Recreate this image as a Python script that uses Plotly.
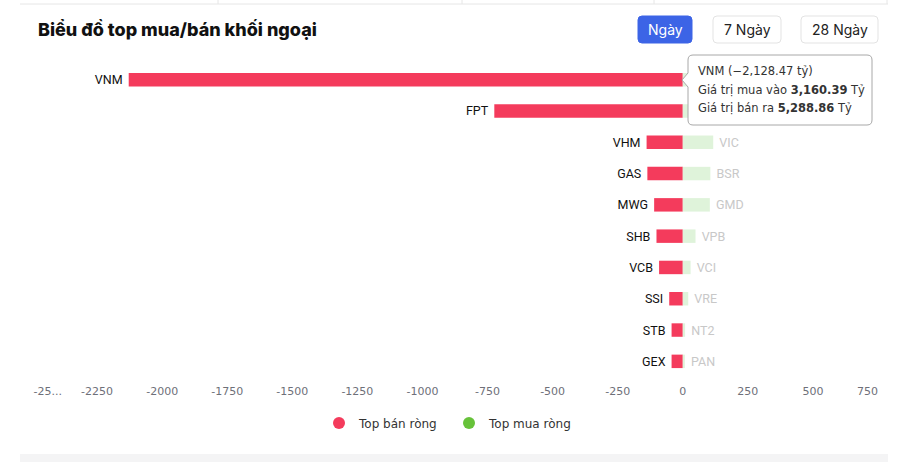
"""
Biểu đồ top mua/bán khối ngoại
"""
import plotly.graph_objects as go

# ---- data ----
sell_tickers = ["VNM", "FPT", "VHM", "GAS", "MWG", "SHB", "VCB", "SSI", "STB", "GEX"]
sell_values = [-2128.47, -724, -139, -136, -110, -101, -91, -52, -43, -43]
# first two buyers are hidden under the tooltip in the reference
buy_tickers = ["", "", "VIC", "BSR", "GMD", "VPB", "VCI", "VRE", "NT2", "PAN"]
buy_values = [180, 150, 117, 106, 104, 49, 30, 21, 9, 8]
ranks = list(range(1, len(sell_tickers) + 1))

tick_vals = [-2500, -2250, -2000, -1750, -1500, -1250, -1000, -750, -500, -250, 0, 250, 500, 750]
tick_text = ["-25...", "-2250", "-2000", "-1750", "-1500", "-1250", "-1000",
             "-750", "-500", "-250", "0", "250", "500", "750"]

tip_name = "VNM"
tip_net = "−2,128.47"
tip_buy = "3,160.39"
tip_sell = "5,288.86"

RED = "#f43b5c"
GREEN = "#67c23a"
GREEN_DIM = "#dff3da"

# plot area in pixels (900 x 462 page)
W, H = 900, 462
L, R, T, B = 32, 878, 64, 377


def px(x):
    return (x - L) / (R - L)


def py(y):
    return (B - y) / (B - T)


def rrect(x0, y0, x1, y1, r):
    """rounded rectangle path in paper coords (input in pixels)"""
    pts = [
        f"M{px(x0 + r)},{py(y0)}", f"L{px(x1 - r)},{py(y0)}",
        f"Q{px(x1)},{py(y0)} {px(x1)},{py(y0 + r)}", f"L{px(x1)},{py(y1 - r)}",
        f"Q{px(x1)},{py(y1)} {px(x1 - r)},{py(y1)}", f"L{px(x0 + r)},{py(y1)}",
        f"Q{px(x0)},{py(y1)} {px(x0)},{py(y1 - r)}", f"L{px(x0)},{py(y0 + r)}",
        f"Q{px(x0)},{py(y0)} {px(x0 + r)},{py(y0)}", "Z",
    ]
    return " ".join(pts)


def tooltip_path(x0, y0, x1, y1, r, ay, tipx):
    pts = [
        f"M{px(x0 + r)},{py(y0)}", f"L{px(x1 - r)},{py(y0)}",
        f"Q{px(x1)},{py(y0)} {px(x1)},{py(y0 + r)}", f"L{px(x1)},{py(y1 - r)}",
        f"Q{px(x1)},{py(y1)} {px(x1 - r)},{py(y1)}", f"L{px(x0 + r)},{py(y1)}",
        f"Q{px(x0)},{py(y1)} {px(x0)},{py(y1 - r)}",
        f"L{px(x0)},{py(ay + 7)}", f"L{px(tipx)},{py(ay)}", f"L{px(x0)},{py(ay - 7)}",
        f"L{px(x0)},{py(y0 + r)}",
        f"Q{px(x0)},{py(y0)} {px(x0 + r)},{py(y0)}", "Z",
    ]
    return " ".join(pts)


nb = "\u00a0"
fig = go.Figure()

fig.add_trace(go.Bar(
    x=sell_values, y=ranks, orientation="h", width=0.43,
    marker=dict(color=RED, line=dict(width=0)),
    text=[t + nb for t in sell_tickers], textposition="outside", cliponaxis=False,
    constraintext="none",
    outsidetextfont=dict(family="Roboto", size=12.5, color="#111"),
    showlegend=False, hoverinfo="skip",
))
fig.add_trace(go.Bar(
    x=buy_values, y=ranks, orientation="h", width=0.43,
    marker=dict(color=GREEN_DIM, line=dict(width=0)),
    text=[nb + t for t in buy_tickers], textposition="outside", cliponaxis=False,
    constraintext="none",
    outsidetextfont=dict(family="Roboto", size=12.5, color="#c8c8c8"),
    showlegend=False, hoverinfo="skip",
))

# legend entries (round dots)
fig.add_trace(go.Scatter(x=[None], y=[None], mode="markers", name="Top bán ròng",
                         marker=dict(size=12, color=RED)))
fig.add_trace(go.Scatter(x=[None], y=[None], mode="markers", name="Top mua ròng",
                         marker=dict(size=12, color=GREEN)))

tick_text[0] = nb * 9 + tick_text[0]
tick_text[-1] = tick_text[-1] + nb * 6

shapes = [
    # table border above the card
    dict(type="line", xref="paper", yref="paper", x0=px(20), x1=px(888), y0=py(4), y1=py(4),
         line=dict(color="#e6e6e6", width=1)),
    # bottom grey band
    dict(type="rect", xref="paper", yref="paper", x0=px(20), x1=px(888), y0=py(454), y1=py(463),
         fillcolor="#f4f4f5", line=dict(width=0), layer="below"),
    # buttons
    dict(type="path", xref="paper", yref="paper", path=rrect(638, 16, 692, 43, 4),
         fillcolor="#3c64e6", line=dict(color="#3c64e6", width=1), layer="below"),
    dict(type="path", xref="paper", yref="paper", path=rrect(713, 16, 781, 43, 4),
         fillcolor="white", line=dict(color="#e3e3e3", width=1), layer="below"),
    dict(type="path", xref="paper", yref="paper", path=rrect(801, 16, 878, 43, 4),
         fillcolor="white", line=dict(color="#e3e3e3", width=1), layer="below"),
    # tooltip box
    dict(type="path", xref="paper", yref="paper",
         path=tooltip_path(688, 55, 872, 125, 5, 80, 682),
         fillcolor="white", line=dict(color="#a8a8a8", width=1)),
]
for xv in [218, 462, 654, 887]:
    shapes.append(dict(type="line", xref="paper", yref="paper", x0=px(xv), x1=px(xv),
                       y0=py(0), y1=py(4), line=dict(color="#e6e6e6", width=1)))

tip_font = dict(family="DejaVu Sans", size=11.5, color="#333")
annotations = [
    dict(text="Biểu đồ top mua/bán khối ngoại", xref="paper", yref="paper",
         x=px(36), y=py(30), xanchor="left", yanchor="middle", showarrow=False,
         font=dict(family="Inter", size=18, color="#111", weight=800)),
    dict(text="Ngày", xref="paper", yref="paper", x=px(665), y=py(30),
         xanchor="center", yanchor="middle", showarrow=False,
         font=dict(family="Inter", size=14, color="white")),
    dict(text="7 Ngày", xref="paper", yref="paper", x=px(747), y=py(30),
         xanchor="center", yanchor="middle", showarrow=False,
         font=dict(family="Inter", size=14, color="#222")),
    dict(text="28 Ngày", xref="paper", yref="paper", x=px(839.5), y=py(30),
         xanchor="center", yanchor="middle", showarrow=False,
         font=dict(family="Inter", size=14, color="#222")),
    dict(text=f"{tip_name} ({tip_net} tỷ)", xref="paper", yref="paper",
         x=px(696), y=py(71), xanchor="left", yanchor="middle", showarrow=False, font=tip_font),
    dict(text=f"Giá trị mua vào <b>{tip_buy}</b> Tỷ", xref="paper", yref="paper",
         x=px(696), y=py(89.5), xanchor="left", yanchor="middle", showarrow=False, font=tip_font),
    dict(text=f"Giá trị bán ra <b>{tip_sell}</b> Tỷ", xref="paper", yref="paper",
         x=px(696), y=py(108), xanchor="left", yanchor="middle", showarrow=False, font=tip_font),
]

fig.update_layout(
    width=W, height=H,
    margin=dict(l=L, r=W - R, t=T, b=H - B, autoexpand=False),
    paper_bgcolor="white", plot_bgcolor="white",
    barmode="overlay",
    hovermode=False,
    xaxis=dict(range=[-2500, 750], tickvals=tick_vals, ticktext=tick_text,
               showgrid=False, zeroline=False, showline=False, ticks="", automargin=False,
               ticklabelstandoff=6,
               tickfont=dict(family="DejaVu Sans", size=11, color="#6e7079")),
    yaxis=dict(range=[10.5, 0.5], showticklabels=False, showgrid=False,
               zeroline=False, showline=False, automargin=False),
    legend=dict(orientation="h", x=px(449), xanchor="center", y=py(423), yanchor="middle",
                entrywidth=85,
                font=dict(family="DejaVu Sans", size=12, color="#333"), itemsizing="trace"),
    shapes=shapes,
    annotations=annotations,
)

# page body has a default margin; remove it so the figure sits at the top-left corner
fig.write_html("out.html", config={"displayModeBar": False},
               post_script="document.body.style.margin='0';")
